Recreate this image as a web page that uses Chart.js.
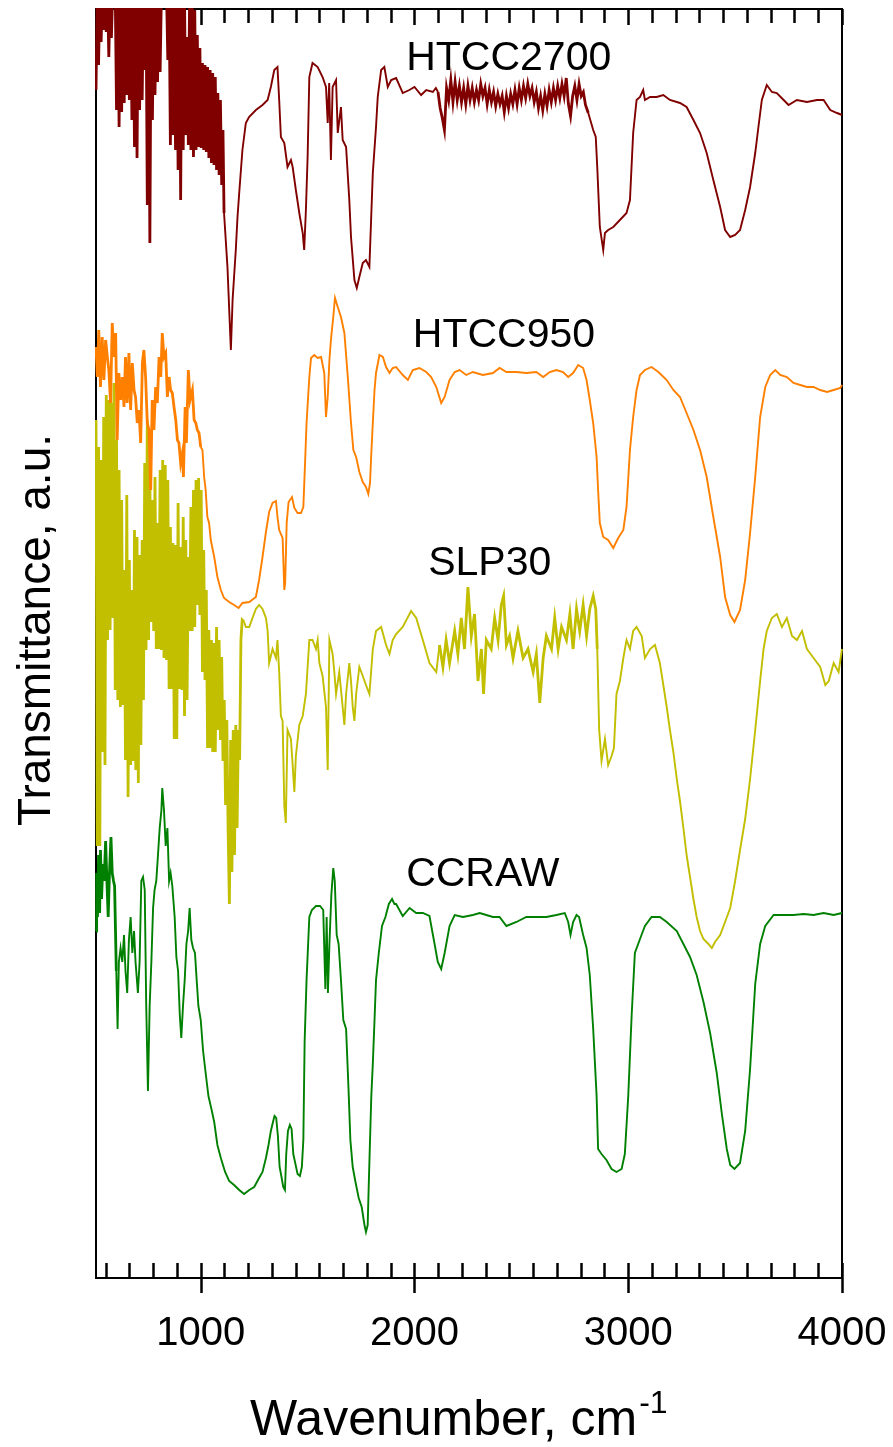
<!DOCTYPE html>
<html>
<head>
<meta charset="utf-8">
<script src="https://cdn.jsdelivr.net/npm/chart.js@4.4.1/dist/chart.umd.min.js"></script>
<style>
  html, body { margin: 0; padding: 0; background: #fff; }
  #wrap { width: 893px; height: 1447px; }
</style>
</head>
<body>
<div id="wrap"><canvas id="ftir" width="893" height="1447"></canvas></div>
<script>
// FTIR spectra, transmittance in arbitrary units (stacked)
const xTickValues = [1000, 2000, 3000, 4000];
const seriesNames = ['HTCC2700', 'HTCC950', 'SLP30', 'CCRAW'];

const htcc2700Wn = [
  510,516,522,528,534,540,546,552,558,564,570,576,582,588,594,600,606,612,618,624,
  630,636,642,648,654,660,666,672,678,684,690,696,702,708,714,720,726,732,738,744,
  750,756,762,768,774,780,786,792,798,804,810,816,822,828,834,840,846,852,858,864,
  870,876,882,888,894,900,906,912,918,924,930,936,942,948,954,960,966,972,978,984,
  990,996,1002,1008,1014,1020,1026,1032,1038,1044,1050,1056,1062,1068,1074,1080,1086,1092,1098,1104,
  1109,1125,1141,1149,1164,1172,1180,1195,1211,1226,1258,1289,1313,1328,1344,1359,1367,1375,1391,1406,
  1422,1430,1445,1461,1477,1484,1492,1500,1508,1523,1547,1570,1586,1594,1601,1609,1617,1633,1641,1656,
  1664,1680,1695,1703,1719,1730,1742,1758,1773,1789,1797,1805,1820,1828,1844,1859,1875,1891,1914,1945,
  1976,2000,2031,2055,2086,2100,
  2110,2120,2130,2140,2150,2160,2170,2180,2190,2200,2210,2220,2230,2240,2250,2260,2270,2280,2290,2300,
  2310,2320,2330,2340,2350,2360,2370,2380,2390,2400,2410,2420,2430,2440,2450,2460,2470,2480,2490,2500,
  2510,2520,2530,2540,2550,2560,2570,2580,2590,2600,2610,2620,2630,2640,2650,2660,2670,2680,2690,2700,
  2710,2720,2730,2740,2750,2760,2770,2780,2790,2800,
  2813,2836,2848,2855,2867,2883,2891,2906,2930,2961,2992,3008,3023,3039,3055,3070,3078,3102,3133,3164,
  3195,3242,3273,3305,3336,3367,3398,3430,3453,3477,3500,3523,3547,3570,3594,3609,3625,3648,3672,3695,
  3727,3750,3789,3836,3883,3914,3945,3977,4000
];
const htcc2700T = [
  1188,1285,1213,1285,1236,1285,1248,1285,1246,1285,1221,1285,1240,1285,1285,1285,1168,1285,1151,1285,
  1166,1285,1175,1285,1183,1285,1178,1285,1158,1285,1131,1285,1120,1285,1168,1285,1178,1285,1208,1285,
  1073,1285,1035,1285,1158,1285,1183,1285,1196,1285,1206,1285,1285,1285,1285,1285,1218,1285,1133,1285,
  1143,1285,1128,1285,1108,1285,1078,1285,1128,1285,1143,1241,1133,1285,1128,1285,1121,1268,1128,1243,
  1131,1230,1130,1215,1128,1213,1126,1211,1120,1208,1115,1205,1113,1201,1108,1185,1103,1178,1093,1148,
  1065,1011,928,978,1028,1061,1085,1128,1155,1161,1168,1173,1178,1191,1208,1211,1178,1141,1135,1111,
  1118,1111,1088,1065,1045,1028,1068,1121,1201,1215,1211,1201,1191,1155,1195,1118,1191,1198,1145,1171,
  1138,1131,1078,1041,998,990,1001,1015,1018,1011,1058,1105,1151,1181,1208,1211,1191,1198,1200,1185,
  1188,1191,1183,1188,1186,1190,
  1186,1170,1160,1148,1190,1178,1198,1176,1196,1178,1192,1176,1190,1174,1192,1178,1190,1176,1188,1178,
  1194,1182,1190,1174,1188,1176,1186,1172,1184,1174,1182,1166,1182,1170,1184,1174,1188,1174,1190,1178,
  1192,1180,1194,1182,1190,1176,1186,1170,1182,1168,1184,1172,1188,1176,1190,1178,1192,1180,1194,1182,
  1200,1174,1162,1182,1192,1178,1194,1182,1186,1173,
  1165,1148,1141,1111,1051,1028,1045,1048,1051,1058,1065,1078,1145,1178,1181,1188,1178,1181,1181,1183,
  1178,1175,1171,1158,1145,1125,1098,1071,1048,1041,1043,1048,1068,1091,1125,1151,1178,1193,1186,1185,
  1178,1173,1178,1176,1178,1178,1168,1165,1163
];

const htcc950Wn = [
  510,516,523,531,539,547,555,563,570,578,586,594,602,609,617,625,633,641,648,656,
  664,672,680,688,695,703,711,719,727,734,742,750,758,766,773,781,789,797,805,813,
  820,828,836,844,852,859,867,875,883,891,898,906,914,919,927,933,942,950,961,969,
  977,984,992,1000,1008,1016,1023,1031,1039,1047,1063,1078,1094,1109,1133,1156,1177,1195,1227,1258,
  1273,1289,1305,1320,1336,1352,1359,1367,1383,1391,1395,1402,1411,1427,1438,1453,1469,1480,1488,1495,
  1508,1516,1531,1547,1563,1578,1586,1594,1602,1609,1620,1628,1641,1656,1672,1688,1703,1714,1727,1742,
  1758,1773,1784,1792,1798,1805,1813,1820,1836,1852,1867,1883,1898,1914,1945,1969,1992,2023,2055,2078,
  2102,2125,2141,2164,2188,2211,2242,2273,2320,2367,2398,2430,2477,2523,2570,2602,2633,2664,2695,2719,
  2742,2766,2789,2805,2820,2836,2852,2859,2867,2883,2906,2930,2953,2977,2992,3008,3023,3039,3055,3078,
  3109,3141,3180,3211,3242,3273,3305,3336,3367,3398,3430,3453,3477,3497,3523,3547,3570,3594,3617,3641,
  3664,3688,3711,3742,3773,3805,3836,3867,3898,3930,3961,3992,4000
];
const htcc950T = [
  931,901,948,891,941,898,938,921,908,875,955,921,945,838,905,878,901,871,921,875,
  925,868,915,888,881,855,868,835,915,928,901,855,848,788,878,848,891,875,921,901,
  945,921,925,881,901,888,885,871,858,838,835,815,825,801,871,835,908,878,888,858,
  855,848,845,831,828,801,788,761,755,738,721,701,688,680,676,673,670,675,676,681,
  698,721,746,766,775,777,761,748,740,688,695,755,776,781,770,765,765,771,815,855,
  901,920,923,920,921,905,861,881,918,938,961,980,971,961,945,901,855,828,821,806,
  796,791,784,795,825,855,888,905,923,921,911,905,910,911,903,898,908,910,906,901,
  891,875,881,898,906,908,903,906,903,905,910,906,906,905,906,901,906,908,906,901,
  905,913,910,898,878,855,821,788,755,741,738,730,740,748,771,828,861,888,903,908,
  911,906,898,888,881,865,848,828,801,761,721,681,663,656,668,698,745,801,861,891,
  903,908,903,901,895,893,891,891,888,886,888,890,893
];

const slp30Wn = [
  510,516,522,528,534,540,546,552,558,564,570,576,582,588,594,600,606,612,618,624,
  630,636,642,648,654,660,666,672,678,684,690,696,702,708,714,720,726,732,738,744,
  750,756,762,768,774,780,786,792,798,804,810,816,822,828,834,840,846,852,858,864,
  870,876,882,888,894,900,906,912,918,924,930,936,942,948,954,960,966,972,978,984,
  990,996,1002,1008,1014,1020,1026,1032,1038,1044,1050,1056,1062,1068,1074,1080,1086,1092,1098,1104,
  1110,1116,1122,1128,1134,1140,1146,1152,1158,1164,1170,1176,1182,1188,1194,
  1203,1211,1227,1242,1258,1273,1289,1305,1313,1320,1336,1352,1359,1367,1375,1383,1391,1398,1406,1422,
  1430,1438,1445,1461,1477,1492,1500,1508,1523,1539,1547,1555,1570,1586,1594,1602,1617,1625,1633,1648,
  1664,1672,1680,1695,1703,1711,1719,1727,1742,1758,1773,1789,1797,1805,1820,1844,1867,1883,1898,1914,
  1945,1984,2008,2039,2070,2102,2117,2133,2148,2164,2188,2203,2219,2234,2250,2266,2281,2297,2313,2323,
  2336,2359,2375,2391,2406,2417,2430,2445,2461,2484,2508,2531,2555,2570,2586,2602,2617,2641,2656,2672,
  2688,2711,2727,2742,2758,2773,2789,2805,2820,2836,2848,2855,2864,2875,2891,2906,2922,2933,2945,2961,
  2977,2992,3008,3023,3039,3063,3078,3102,3125,3148,3164,3180,3195,3211,3227,3242,3258,3273,3289,3305,
  3320,3336,3352,3375,3391,3406,3430,3453,3477,3500,3523,3547,3570,3594,3617,3633,3648,3672,3695,3719,
  3742,3766,3789,3813,3836,3867,3898,3922,3938,3961,3984,4000
];
const slp30T = [
  858,432,831,432,818,526,861,513,883,638,878,648,875,660,895,588,838,578,808,571,
  778,573,708,518,783,481,718,513,688,517,748,508,741,495,723,533,738,578,815,628,
  858,638,798,656,778,647,801,629,755,629,808,628,818,620,813,618,798,589,751,589,
  735,539,733,539,775,589,731,588,761,562,738,578,721,647,771,647,788,651,798,673,
  800,663,788,606,728,598,688,530,648,530,638,526,635,526,651,548,638,538,621,517,
  578,473,558,448,374,538,406,548,423,553,450,548,518,638,658,
  656,651,651,660,669,673,669,660,647,615,629,620,638,606,562,557,472,455,548,539,
  513,486,522,553,562,584,611,638,638,629,638,615,602,571,508,638,624,606,584,606,
  571,553,584,615,597,571,557,584,611,602,593,584,606,629,647,651,633,624,638,644,
  651,667,660,638,615,606,633,611,638,615,647,624,660,629,691,642,664,597,629,584,
  638,629,660,638,673,682,633,642,620,647,620,629,606,624,575,620,642,629,660,629,
  651,638,664,629,669,647,673,642,669,682,669,629,548,517,539,513,522,530,584,597,
  620,638,629,647,651,642,620,629,633,615,593,571,548,526,499,477,450,423,401,379,
  361,347,339,334,330,336,343,356,370,397,428,459,499,548,597,629,647,660,664,651,
  660,642,638,647,629,620,611,593,597,615,606,629
];

const ccrawWn = [
  510,513,517,522,527,531,536,542,548,555,561,567,573,580,586,592,597,605,611,617,
  625,633,641,648,656,664,672,680,688,695,706,714,722,730,738,745,753,761,769,777,
  784,792,800,808,816,820,828,836,844,852,859,867,878,886,894,902,909,917,925,933,
  941,948,956,964,973,981,989,1000,1011,1023,1036,1050,1063,1078,1094,1114,1133,1156,1180,1203,
  1227,1250,1273,1289,1305,1317,1328,1338,1345,1353,1361,1369,1377,1386,1394,1400,1408,1417,1425,1433,
  1442,1453,1464,1473,1480,1486,1495,1508,1520,1539,1558,1573,1583,1589,1595,1602,1611,1620,1627,1636,
  1645,1656,1667,1680,1691,1700,1711,1723,1739,1753,1766,1773,1781,1786,1792,1798,1805,1813,1820,1833,
  1848,1864,1880,1895,1906,1914,1945,1977,2008,2039,2070,2094,2109,2125,2141,2164,2188,2227,2273,2305,
  2336,2367,2398,2430,2477,2523,2570,2617,2664,2703,2719,2730,2742,2758,2770,2789,2805,2820,2836,2852,
  2859,2875,2898,2922,2945,2969,2984,3000,3016,3031,3055,3078,3109,3148,3180,3227,3258,3289,3320,3352,
  3383,3414,3438,3461,3477,3497,3523,3547,3570,3594,3617,3641,3680,3727,3773,3820,3867,3914,3961,4000
];
const ccrawT = [
  347,405,361,423,365,428,379,414,397,437,397,361,405,441,405,397,392,307,249,316,
  330,316,343,307,285,338,361,325,347,316,285,316,397,401,388,272,187,272,316,370,
  388,397,423,450,468,490,468,432,450,397,405,392,361,321,307,263,240,272,298,334,
  347,370,338,330,325,298,272,258,227,205,182,169,156,133,120,106,97,93,88,84,
  88,91,100,106,120,133,147,156,162,160,142,111,102,91,88,124,147,153,149,124,
  115,104,102,111,138,236,298,361,368,372,372,368,289,361,285,334,383,410,397,343,
  334,298,258,249,191,138,111,97,80,71,53,46,53,93,138,182,214,258,298,325,
  352,361,374,379,374,374,362,370,365,365,362,334,316,309,325,352,363,361,363,365,
  363,361,361,352,356,361,361,361,363,365,356,343,356,363,361,343,330,303,249,182,
  129,124,118,109,106,109,124,182,263,325,339,352,361,361,356,347,334,321,303,276,
  245,205,164,129,113,109,115,147,209,294,334,352,363,363,363,364,363,365,363,365
];

const seriesColors = ['#800000', '#ff8000', '#c2be00', '#008000'];
// heavier stroke where the recorded signal is dense noise: [from, to] wavenumber ranges
const heavyRanges = [
  [[500, 1106], [2105, 2805]],
  [[500, 1000]],
  [[500, 1200], [2110, 2850]],
  [[500, 600]]
];
// where each name is written: [wavenumber, transmittance] of the text's left baseline
const labelAnchors = [[1961, 1208], [1992, 931], [2064, 703], [1961, 392]];

const FONT = '"Liberation Sans", Arial, sans-serif';

function toPoints(wn, t) {
  return wn.map((x, i) => ({ x: x, y: t[i] }));
}

function segWidth(i) {
  return ctx => {
    const x = ctx.p0.parsed.x;
    return heavyRanges[i].some(r => x >= r[0] && x < r[1]) ? 2.8 : 1.9;
  };
}

const framePlugin = {
  id: 'frame',
  beforeDatasetsDraw(chart) {
    const { ctx, chartArea: a } = chart;
    const xs = chart.scales.x;
    ctx.save();
    ctx.strokeStyle = '#000';
    ctx.lineWidth = 2;
    ctx.strokeRect(a.left, a.top, a.right - a.left, a.bottom - a.top);

    const step = (xTickValues[1] - xTickValues[0]) / 9;
    const minor = [];
    for (let v = xTickValues[0] - step; v > xs.min; v -= step) minor.push(v);
    for (let i = 0; i < xTickValues.length - 1; i++) {
      for (let k = 1; k < 9; k++) minor.push(xTickValues[i] + k * step);
    }
    ctx.lineWidth = 2.5;
    ctx.beginPath();
    minor.forEach(v => {
      const px = Math.round(xs.getPixelForValue(v)) + 0.5;
      ctx.moveTo(px, a.bottom); ctx.lineTo(px, a.bottom - 15);
      ctx.moveTo(px, a.top); ctx.lineTo(px, a.top + 14);
    });
    xTickValues.forEach(v => {
      const px = Math.round(xs.getPixelForValue(v)) + 0.5;
      ctx.moveTo(px, a.bottom + 15); ctx.lineTo(px, a.bottom - 15);
      ctx.moveTo(px, a.top); ctx.lineTo(px, a.top + 16);
    });
    ctx.stroke();
    ctx.restore();
  }
};

const textPlugin = {
  id: 'texts',
  afterDraw(chart) {
    const { ctx } = chart;
    const xs = chart.scales.x, ys = chart.scales.y;
    ctx.save();
    ctx.fillStyle = '#000';
    ctx.textBaseline = 'alphabetic';

    // series names
    ctx.font = '41px ' + FONT;
    ctx.textAlign = 'left';
    seriesNames.forEach((name, i) => {
      const [wn, t] = labelAnchors[i];
      ctx.fillText(name, xs.getPixelForValue(wn), ys.getPixelForValue(t));
    });

    // x axis title with superscript
    ctx.font = '50px ' + FONT;
    const main = 'Wavenumber, cm';
    ctx.fillText(main, 250, 1435);
    const w = ctx.measureText(main).width;
    ctx.font = '32px ' + FONT;
    ctx.fillText('-1', 250 + w + 2, 1413);

    // y axis title
    ctx.font = '46px ' + FONT;
    ctx.translate(50, 630);
    ctx.rotate(-Math.PI / 2);
    ctx.textAlign = 'center';
    ctx.fillText('Transmittance, a.u.', 0, 0);
    ctx.restore();
  }
};

new Chart(document.getElementById('ftir'), {
  type: 'line',
  data: {
    datasets: seriesNames.map((name, i) => ({
      label: name,
      data: toPoints([htcc2700Wn, htcc950Wn, slp30Wn, ccrawWn][i], [htcc2700T, htcc950T, slp30T, ccrawT][i]),
      borderColor: seriesColors[i],
      segment: { borderWidth: segWidth(i) }
    }))
  },
  options: {
    responsive: false,
    animation: false,
    devicePixelRatio: 1,
    layout: { padding: { left: 96, right: 51, top: 9, bottom: 0 } },
    elements: {
      point: { radius: 0 },
      line: { borderWidth: 1.9, tension: 0, fill: false, borderJoinStyle: 'miter' }
    },
    datasets: { line: { clip: 1 } },
    plugins: { legend: { display: false }, tooltip: { enabled: false } },
    scales: {
      x: {
        type: 'linear',
        min: 510,
        max: 4000,
        grid: { display: false, drawTicks: false },
        border: { display: false },
        ticks: {
          color: '#000',
          font: { family: FONT, size: 40 },
          padding: 32,
          maxRotation: 0,
          callback: v => String(v)
        },
        afterBuildTicks: s => { s.ticks = xTickValues.map(v => ({ value: v })); },
        afterFit: s => { s.height = 169; s.paddingLeft = 0; s.paddingRight = 0; }
      },
      y: { min: 0, max: 1269, display: false }
    }
  },
  plugins: [framePlugin, textPlugin]
});
</script>
</body>
</html>
